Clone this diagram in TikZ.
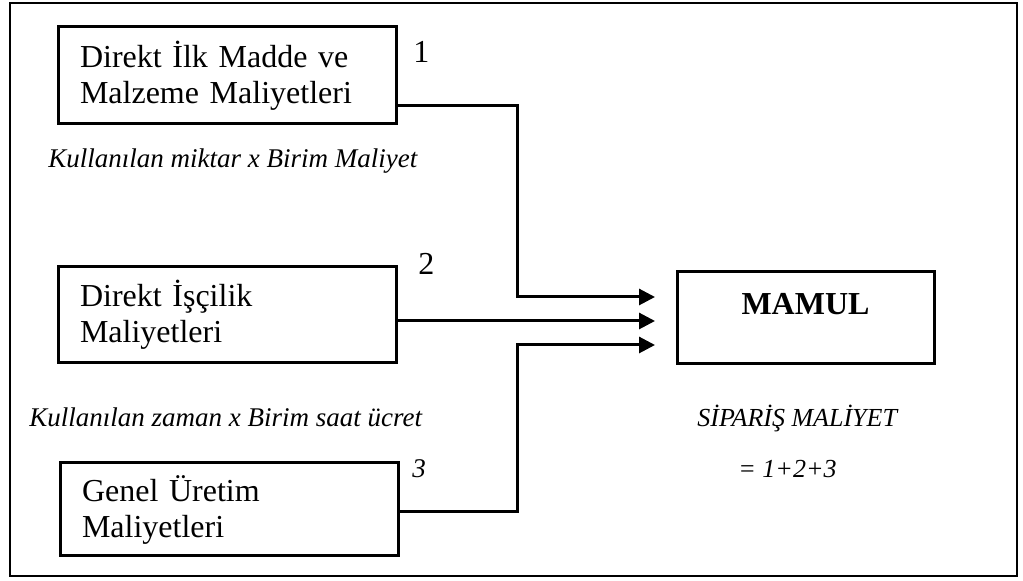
\documentclass[tikz,border=0pt]{standalone}
\usepackage{fontspec}
\setmainfont{Liberation Serif}
\usetikzlibrary{arrows.meta}

\begin{document}
\begin{tikzpicture}[x=0.5pt, y=-0.5pt,
  kutu/.style={draw, line width=1.5pt, anchor=north west, inner xsep=11pt, inner ysep=0pt,
    outer sep=0pt, text width=147pt, align=left, font=\fontsize{16}{18}\selectfont},
  ok/.style={line width=1.5pt, -{Triangle[length=8pt,width=8pt]}, shorten >=11pt},
  etiket/.style={anchor=base west, inner sep=0pt, font=\fontsize{13.5}{16}\selectfont\itshape},
  sayi/.style={anchor=base west, inner sep=0pt, font=\fontsize{16}{18}\selectfont}]
	  \useasboundingbox (0,0) rectangle (1023,581);
	  \draw[line width=0.8pt] (10,3) rectangle (1017,576);

	  % maliyet kutulari
	  \node[kutu, minimum height=48.5pt] (b1) at (58,27) {Direkt İlk Madde ve\\Malzeme Maliyetleri};
	  \node[kutu, minimum height=48pt] (b2) at (58,267) {Direkt İşçilik\\Maliyetleri};
	  \node[kutu, minimum height=46.5pt] (b3) at (60,463) {Genel Üretim\\Maliyetleri};
	  \node[draw, line width=1.5pt, anchor=north west, inner ysep=0pt, outer sep=0pt, minimum width=128.5pt,
	    text height=21.5pt, text depth=24.5pt, font=\fontsize{16}{18}\selectfont\bfseries]
	    (m) at (677,272) {MAMUL};

	  \node[sayi] (n1) at (413,63) {1};
	  \node[sayi] (n2) at (418,275) {2};
	  \node[sayi, font=\fontsize{13.5}{16}\selectfont\itshape] (n3) at (412,478) {3};

	  \node[etiket] (e1) at (48,168) {Kullanılan miktar x Birim Maliyet};
	  \node[etiket] (e2) at (29,427) {Kullanılan zaman x Birim saat ücret};
	  \node[etiket, font=\fontsize{13}{16}\selectfont\itshape] (s1) at (697,427) {SİPARİŞ MALİYET};
	  \node[etiket, font=\fontsize{13}{16}\selectfont\itshape] (s2) at (738,478) {= 1+2+3};

	  % baglantilar
	  \coordinate (d1) at (517,297);
	  \coordinate (d3) at (517,345);
	  \draw[ok] ([yshift=-15.25pt]b1.east) -| (d1) -- (d1 -| m.west);
	  \draw[ok] ([yshift=-3pt]b2.east) -- ([yshift=-3pt]b2.east -| m.west);
	  \draw[ok] ([yshift=-1.25pt]b3.east) -| (d3) -- (d3 -| m.west);
	\end{tikzpicture}
\end{document}
